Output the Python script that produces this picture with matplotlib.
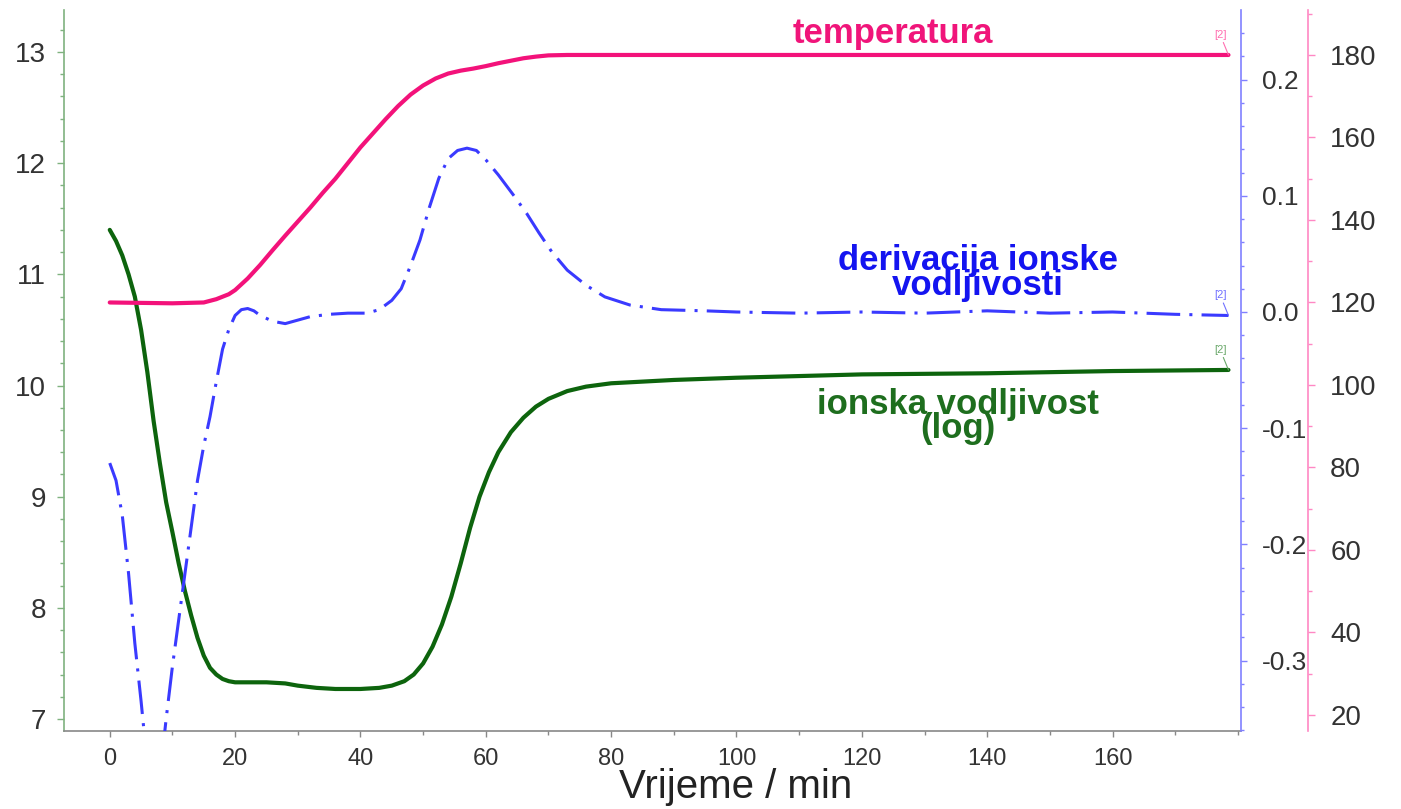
import matplotlib
matplotlib.use("Agg")
import matplotlib.pyplot as plt
from matplotlib.ticker import MultipleLocator, FuncFormatter

plt.rcParams["font.family"] = ["Liberation Sans", "DejaVu Sans"]
plt.rcParams["axes.unicode_minus"] = False

# --- data -------------------------------------------------------------
# ionic conductivity (log), left axis
t_cond = [0, 1, 2, 3, 4, 5, 6, 7, 8, 9, 10, 11, 12, 13, 14, 15, 16, 17, 18, 19,
          20, 25, 28, 30, 33, 36, 40, 43, 45, 47, 48.5, 50, 51.5, 53, 54.5, 56,
          57.5, 59, 60.5, 62, 64, 66, 68, 70, 73, 76, 80, 90, 100, 120, 140,
          160, 178.5]
cond = [11.40, 11.30, 11.17, 11.00, 10.80, 10.50, 10.12, 9.68, 9.30, 8.95,
        8.68, 8.40, 8.15, 7.93, 7.73, 7.57, 7.46, 7.40, 7.36, 7.34,
        7.33, 7.33, 7.32, 7.30, 7.28, 7.27, 7.27, 7.28, 7.30, 7.34, 7.40,
        7.50, 7.65, 7.85, 8.10, 8.40, 8.72, 9.00, 9.22, 9.40, 9.58, 9.71,
        9.81, 9.88, 9.95, 9.99, 10.02, 10.05, 10.07, 10.10, 10.11, 10.13,
        10.14]

# derivative of ionic conductivity, first right axis
t_deriv = [0, 1, 2, 3, 4, 5, 6, 7, 8, 9, 10, 11, 12, 13, 14, 15, 16, 17, 18,
           19, 20, 21, 22, 23, 24, 26, 28, 30, 32, 35, 38, 41, 43, 45, 46.5,
           48, 49.5, 51, 52.5, 54, 55.5, 57, 58.5, 60, 62, 64.5, 66.5, 68.5,
           70.5, 73, 76, 79, 83, 88, 95, 100, 110, 120, 130, 140, 150, 160,
           170, 178.5]
deriv = [-0.130, -0.145, -0.175, -0.225, -0.285, -0.335, -0.390, -0.430,
         -0.400, -0.350, -0.305, -0.265, -0.225, -0.185, -0.145, -0.115,
         -0.090, -0.060, -0.032, -0.015, -0.003, 0.002, 0.003, 0.001, -0.003,
         -0.008, -0.010, -0.007, -0.004, -0.002, -0.001, -0.001, 0.002, 0.010,
         0.020, 0.040, 0.062, 0.090, 0.115, 0.132, 0.139, 0.141, 0.139, 0.131,
         0.118, 0.100, 0.085, 0.068, 0.052, 0.036, 0.023, 0.013, 0.006, 0.002,
         0.001, 0.000, -0.001, 0.000, -0.001, 0.001, -0.001, 0.000, -0.002,
         -0.003]

# temperature, second right axis
t_temp = [0, 10, 15, 17, 19, 20, 22, 24, 26, 28, 30, 32, 34, 36, 38, 40, 42,
          44, 46, 48, 50, 52, 54, 56, 58, 60, 62, 64, 66, 68, 70, 73, 80, 100,
          120, 140, 160, 178.5]
temp = [120.0, 119.8, 120.0, 120.8, 122.0, 123.0, 125.8, 129.1, 132.7, 136.2,
        139.6, 143.0, 146.6, 150.0, 153.8, 157.6, 161.0, 164.4, 167.6, 170.4,
        172.6, 174.3, 175.5, 176.2, 176.7, 177.3, 178.0, 178.6, 179.2, 179.6,
        179.9, 180.0, 180.0, 180.0, 180.0, 180.0, 180.0, 180.0]

x_ticks = [0, 20, 40, 60, 80, 100, 120, 140, 160]

# --- styling ------------------------------------------------------------
W, H = 1401, 809
GREEN = "#0d640d"
BLUE = "#3a3aff"
PINK = "#f3127a"
TICK_TXT = "#333333"


def fx(px):
    return px / W


def fy(py):
    return 1 - py / H


fig = plt.figure(figsize=(W / 100, H / 100), dpi=100)
ax = fig.add_axes([fx(64), fy(731), (1241 - 64) / W, (731 - 10) / H])
ax2 = ax.twinx()
ax3 = ax.twinx()

ax.plot(t_cond, cond, color=GREEN, lw=3.0, solid_capstyle="round",
        solid_joinstyle="round", zorder=3)
ax2.plot(t_deriv, deriv, color=BLUE, lw=2.2, linestyle=(0, (11, 3, 1, 3)))
ax3.plot(t_temp, temp, color=PINK, lw=3.0, solid_capstyle="round",
         solid_joinstyle="round")

ax.set_xlim(-7.3, 180.5)
ax.set_ylim(6.892, 13.378)
ax2.set_ylim(-0.3606, 0.2599)
ax3.set_ylim(16.12, 190.9)

# spines
for s in ("top", "right"):
    ax.spines[s].set_visible(False)
ax.spines["left"].set_color("#7fb27f")
ax.spines["bottom"].set_color("#888888")
for s in ("top", "left", "bottom"):
    ax2.spines[s].set_visible(False)
    ax3.spines[s].set_visible(False)
ax2.spines["right"].set_color("#8080ff")
ax3.spines["right"].set_color("#ff88c4")
ax3.spines["right"].set_position(("axes", 1 + 67 / 1177))
for a in (ax, ax2, ax3):
    a.patch.set_visible(False)
    for sp in a.spines.values():
        sp.set_linewidth(1.2)

# x axis
ax.xaxis.set_minor_locator(MultipleLocator(10))
ax.set_xticks(x_ticks)
ax.tick_params(axis="x", which="major", direction="out", length=4, width=1,
               color="#888888", labelsize=17, labelcolor=TICK_TXT, pad=8)
ax.tick_params(axis="x", which="minor", direction="out", length=3, width=1,
               color="#888888")
ax.set_xlabel("Vrijeme / min", fontsize=29, color="#222222", va="baseline")
ax.xaxis.set_label_coords((736 - 64) / 1177, (731 - 798) / 721)

# left axis
ax.yaxis.set_major_locator(MultipleLocator(1))
ax.yaxis.set_minor_locator(MultipleLocator(0.2))
ax.tick_params(axis="y", which="major", direction="out", length=5, width=1,
               color="#7fb27f", labelsize=20, labelcolor=TICK_TXT, pad=8)
ax.tick_params(axis="y", which="minor", direction="out", length=3, width=1,
               color="#7fb27f")

# derivative axis
ax2.yaxis.set_major_locator(MultipleLocator(0.1))
ax2.yaxis.set_minor_locator(MultipleLocator(0.02))
ax2.yaxis.set_major_formatter(
    FuncFormatter(lambda v, p: f"{v:.1f}".replace("-0.0", "0.0")))
ax2.tick_params(axis="y", which="major", direction="out", length=4, width=1,
                color="#8080ff", labelsize=19, labelcolor=TICK_TXT, pad=11)
ax2.tick_params(axis="y", which="minor", direction="out", length=2.5, width=1,
                color="#8080ff")

# temperature axis
ax3.yaxis.set_major_locator(MultipleLocator(20))
ax3.yaxis.set_minor_locator(MultipleLocator(10))
ax3.tick_params(axis="y", which="major", direction="out", length=5, width=1,
                color="#ff88c4", labelsize=20, labelcolor=TICK_TXT, pad=11)
ax3.tick_params(axis="y", which="minor", direction="out", length=3, width=1,
                color="#ff88c4")

# curve labels
fig.text(fx(893), fy(43), "temperatura", color="#f0157a", fontsize=25,
         fontweight="bold", ha="center", va="baseline")
fig.text(fx(978), fy(295), "derivacija ionske\nvodljivosti", color="#1414f0",
         fontsize=25, fontweight="bold", ha="center", va="baseline",
         multialignment="center", linespacing=0.7)
fig.text(fx(958), fy(438), "ionska vodljivost\n(log)", color="#1e6e1e",
         fontsize=25, fontweight="bold", ha="center", va="baseline",
         multialignment="center", linespacing=0.66)

# end-of-curve markers
for a, tt, vv, col in ((ax3, t_temp[-1], temp[-1], "#ff6fb0"),
                       (ax2, t_deriv[-1], deriv[-1], "#7070ff"),
                       (ax, t_cond[-1], cond[-1], "#6aa86a")):
    a.annotate("[2]", xy=(tt, vv), xytext=(-6, 11), textcoords="offset points",
               fontsize=8, color=col, ha="center", va="bottom",
               arrowprops=dict(arrowstyle="-", color=col, lw=0.8,
                               shrinkA=0, shrinkB=0))

fig.savefig("out.png", dpi=100)
